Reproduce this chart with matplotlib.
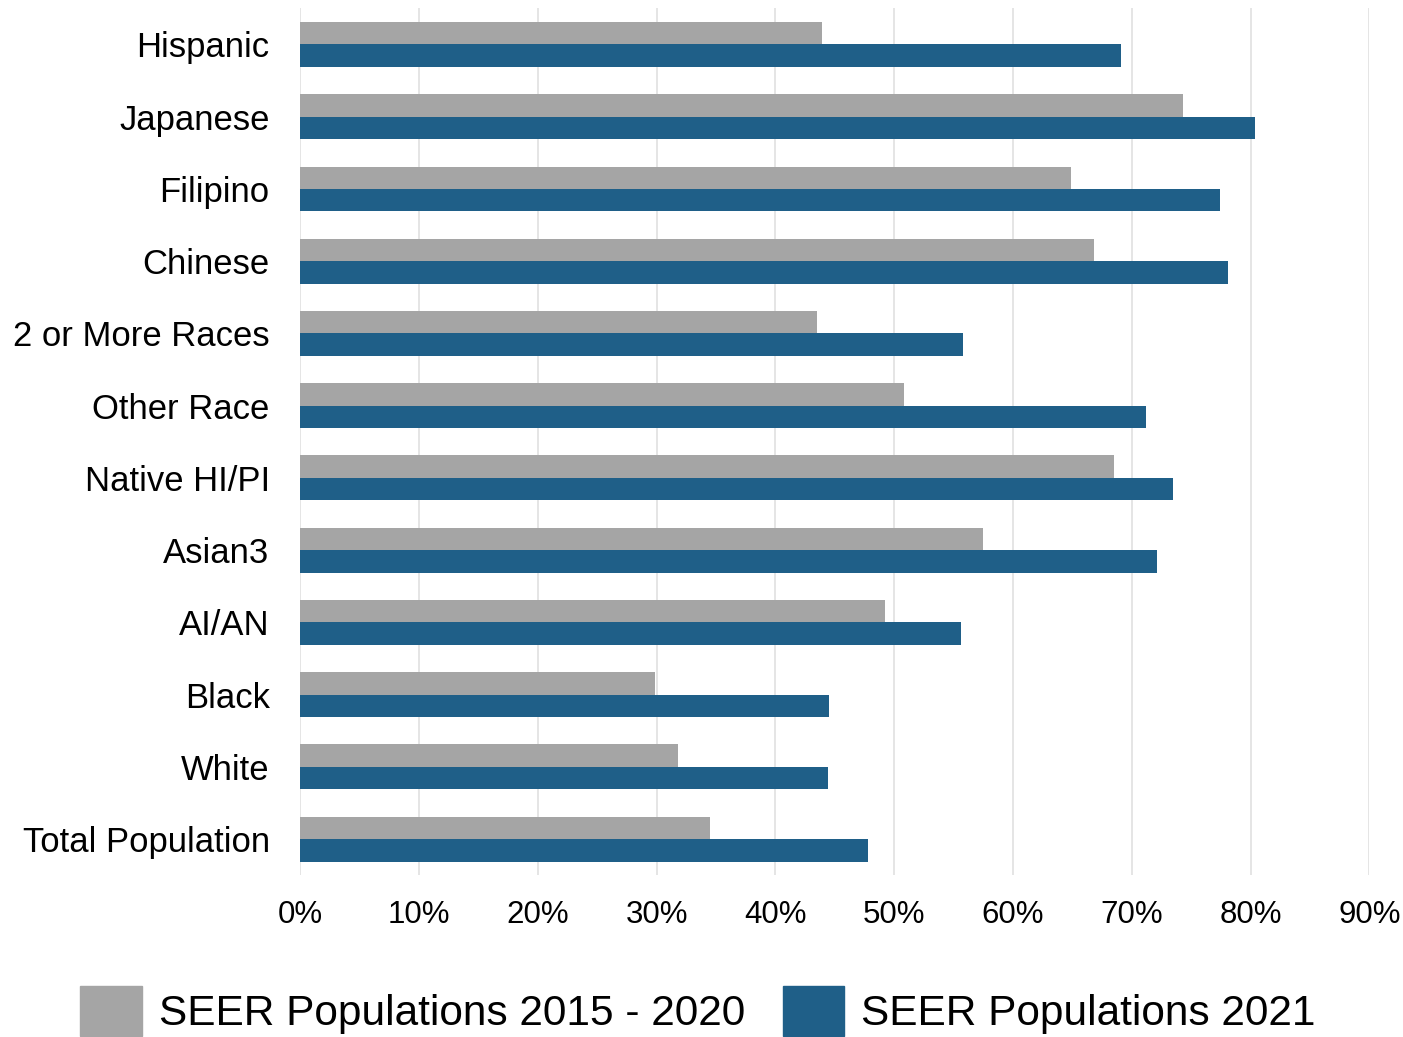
import matplotlib

matplotlib.use("Agg")
import matplotlib.pyplot as plt
import numpy as np
from matplotlib.patches import Patch
from matplotlib.ticker import PercentFormatter

plt.rcParams["font.family"] = ["Liberation Sans", "DejaVu Sans"]

# categorías de arriba hacia abajo
grupos = [
    "Hispanic", "Japanese", "Filipino", "Chinese", "2 or More Races",
    "Other Race", "Native HI/PI", "Asian3", "AI/AN", "Black", "White",
    "Total Population",
]
seer_2015_2020 = [43.9, 74.3, 64.9, 66.8, 43.5, 50.8, 68.5, 57.5, 49.2, 29.9, 31.8, 34.5]
seer_2021 = [69.1, 80.4, 77.4, 78.1, 55.8, 71.2, 73.5, 72.1, 55.6, 44.5, 44.4, 47.8]
etiquetas_serie = ["SEER Populations 2015 - 2020", "SEER Populations 2021"]

GRIS = "#a5a5a5"
AZUL = "#1f5f88"

fig = plt.figure(figsize=(14.03, 10.37), dpi=100)
ax = fig.add_axes([0.214, 0.156, 0.762, 0.836])

y = np.arange(len(grupos))
alto = 0.31
ax.barh(y - alto / 2, seer_2015_2020, height=alto, color=GRIS)
ax.barh(y + alto / 2, seer_2021, height=alto, color=AZUL)

ax.set_xlim(0, 90)
ax.set_ylim(len(grupos) - 0.5, -0.5)
ax.set_xticks(np.arange(0, 91, 10))
ax.xaxis.set_major_formatter(PercentFormatter(decimals=0))
ax.set_yticks(y)
ax.set_yticklabels(grupos, fontsize=24.9)
ax.tick_params(axis="x", labelsize=22.5, length=0, pad=18)
ax.tick_params(axis="y", length=0, pad=22)
ax.grid(axis="x", color="#e0e0e0", linewidth=1.2)
ax.set_axisbelow(True)
for lado in ax.spines.values():
    lado.set_visible(False)

manijas = [Patch(color=GRIS), Patch(color=AZUL)]
fig.legend(
    manijas, etiquetas_serie, loc="center", ncol=2, frameon=False,
    fontsize=30.5, handlelength=1.45, handleheight=1.45, columnspacing=0.9,
    handletextpad=0.4, bbox_to_anchor=(0.4975, 0.025),
)

fig.savefig("out.png", dpi=100)
